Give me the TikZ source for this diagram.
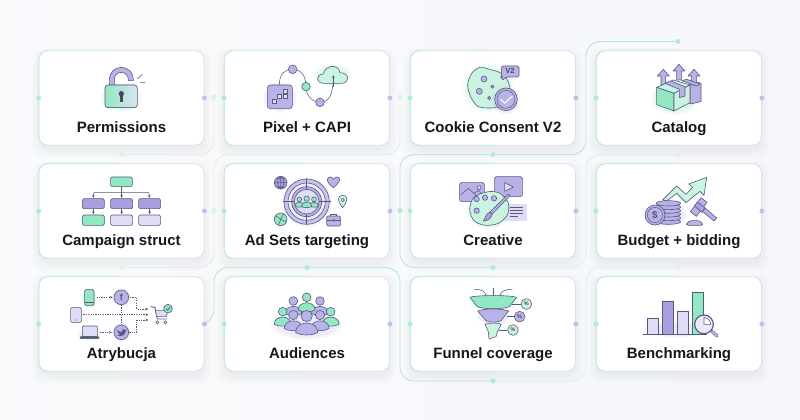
\documentclass[tikz,border=0pt]{standalone}
\usepackage{fontspec}
\setmainfont{Liberation Sans}
\usetikzlibrary{arrows.meta,calc}
\definecolor{ink}{HTML}{565B7C}
\definecolor{pur}{HTML}{B9B2E8}
\definecolor{purD}{HTML}{A79FE0}
\definecolor{lil}{HTML}{DFDCF7}
\definecolor{grn}{HTML}{92E8C2}
\definecolor{grnL}{HTML}{CBF3E1}
\definecolor{wireA}{HTML}{B4E9D4}
\definecolor{wireB}{HTML}{DAF2E9}
\definecolor{bdL}{HTML}{DFDDF1}
\definecolor{bdG}{HTML}{C6EEDF}
\definecolor{txt}{HTML}{15171F}
\definecolor{bgtint}{HTML}{F6F7FB}
\pgfdeclarelayer{bg}
\pgfsetlayers{bg,main}
\tikzset{
  x=1pt,y=-1pt,
  card/.style={draw=bdL,line width=.8pt,fill=white,rounded corners=9pt,minimum width=165pt,minimum height=94.5pt,inner sep=0pt},
  cardlabel/.style={font=\bfseries\fontsize{15}{18}\selectfont,text=txt,inner sep=0pt,anchor=base},
  dotp/.style={circle,fill=#1,minimum size=5pt,inner sep=0pt},
  wirestrong/.style={draw=wireA,line width=.9pt,rounded corners=14pt},
  wirelight/.style={draw=wireB,line width=.9pt,rounded corners=14pt},
  ol/.style={draw=ink,line width=.6pt,line join=round},
  thin line/.style={draw=ink,line width=.55pt},
  tip/.style={-{Stealth[length=3pt,width=2.6pt]},draw=ink,line width=.55pt},
  dashtip/.style={tip,dash pattern=on 1.2pt off 1.2pt},
  zA/.style={shift={(20,30)},x=.33333pt,y=-.33333pt},
  zB/.style={shift={(400,30)},x=.33333pt,y=-.33333pt},
  zC/.style={shift={(20,150)},x=.33333pt,y=-.33333pt},
  zD/.style={shift={(400,150)},x=.33333pt,y=-.33333pt},
  zE/.style={shift={(20,265)},x=.33333pt,y=-.33333pt},
  zF/.style={shift={(400,265)},x=.33333pt,y=-.33333pt},
}
\newcommand\softglow[5]{%
  \foreach \g in {1.22,1.17,1.12,1.07,1.02,.97}{\fill[#5,opacity=.045] (#1,#2) ellipse ({#3*\g} and {#4*\g});}}
\newcommand\personfig[4]{%
  \filldraw[ol,fill=#4] ({#1-1.95*#3},{#2+2.9*#3}) .. controls ({#1-1.95*#3},{#2+.7*#3}) and ({#1+1.95*#3},{#2+.7*#3}) .. ({#1+1.95*#3},{#2+2.9*#3}) .. controls ({#1+1*#3},{#2+3.5*#3}) and ({#1-1*#3},{#2+3.5*#3}) .. cycle;
  \filldraw[ol,fill=#4] (#1,#2) circle (#3);}
\begin{document}
\begin{tikzpicture}
\useasboundingbox (0,0) rectangle (800,420);
\begin{pgfonlayer}{bg}
\shade[left color=white!40!bgtint,right color=bgtint] (0,0) rectangle (800,420);
\foreach \cx in {121.5,307,493,679}\foreach \cy in {98,211,324}\foreach \s in {0,1.5,3,4.5,6,7.5}{
  \fill[black,opacity=.009,rounded corners=11pt] ({\cx-82.5-\s},{\cy-47.25+5-\s}) rectangle ({\cx+82.5+\s},{\cy+47.25+5+\s});}
\end{pgfonlayer}
% cards
\foreach \n/\cx/\cy/\t in {a/121.5/98/Permissions,b/307/98/Pixel + CAPI,c/493/98/Cookie Consent V2,d/679/98/Catalog,
  e/121.5/211/Campaign struct,f/307/211/Ad Sets targeting,g/493/211/Creative,h/679/211/Budget + bidding,
  i/121.5/324/Atrybucja,j/307/324/Audiences,k/493/324/Funnel coverage,l/679/324/Benchmarking}{
  \node[card] (\n) at (\cx,\cy) {};
  \draw[bdG,line width=.8pt,rounded corners=9pt] (\n.south) -- (\n.south west) -- (\n.north west) -- (\n.north);
  \node[cardlabel] (t\n) at (\cx,{\cy+34}) {\t};
  \node[dotp=grn!75!white] (\n L) at (\n.west) {};
  \node[dotp=pur!85!white] (\n R) at (\n.east) {};
}
% junction and mid-gap dots
\coordinate (v1) at (214,0); \coordinate (v2) at (400,0); \coordinate (v3) at (586,0);
\node[dotp=wireB] (j1) at (214,97) {};
\node[dotp=wireB] (j2) at (400,97) {};
\node[dotp=wireB] (j3) at (214,210.5) {};
\node[dotp=wireA] (j4) at (400,210.5) {};
\node[dotp=wireB] (m1) at (121.5,154.5) {};
\node[dotp=wireB] (m2) at (121.5,267.5) {};
\node[dotp=wireA] (m3) at (307,267.5) {};
\node[dotp=wireA] (m4) at (493,154.5) {};
\node[dotp=wireA] (m5) at (493,267.5) {};
\node[dotp=wireA] (m6) at (493,381) {};
\node[dotp=wireA] (m7) at (678,41.5) {};
\node[dotp=wireB] (m8) at (678,154.5) {};
\node[dotp=wireB] (m9) at (678,267.5) {};
\begin{pgfonlayer}{bg}
\draw[wirelight] (j1.center) -- (j1 |- m1) -- (m1.center);
\draw[wirelight] (j2.center) -- (j2 |- m1) -- (j3 |- m1) -- (j3.center) -- (j3 |- m2) -- (m2.center);
\draw[wirestrong] (iR.center) -- (v1 |- iR) -- (v1 |- m3) -- (m3.center) -- (v2 |- m3) -- (v2 |- m6) -- (m6.center);
\draw[wirelight] (m6.center) -- (v3 |- m6) -- (v3 |- m9) -- (m9.center);
\draw[wirestrong] (m7.center) -- (v3 |- m7) -- (v3 |- m4) -- (m4.center) -- (v2 |- m4) -- (v2 |- m5) -- (m5.center);
\draw[wirelight] (m5.center) -- (v3 |- m5) -- (v3 |- m8) -- (m8.center);
\end{pgfonlayer}
% ---------- Permissions
\begin{scope}[zA]
\softglow{304}{205}{52}{34}{grn}
\filldraw[ol,fill=pur] (268,170) -- (268,148) arc[start angle=180,end angle=360,radius=36] -- (340,152) -- (325,152) -- (325,148) arc[start angle=360,end angle=180,radius=21] -- (283,170) -- cycle;
\filldraw[ol,left color=grn,right color=lil!70!grnL,rounded corners=3pt] (255,165) rectangle (352,233);
\fill[ink!80!black] (304,191) circle (8); \fill[ink!80!black] (299,193) rectangle (309,215);
\draw[thin line] (352,147) -- (367,133) (360,158) -- (376,158);
% ---------- Pixel + CAPI
\softglow{780}{202}{42}{38}{pur}
\softglow{938}{135}{46}{26}{grn}
\draw[thin line] (778,165) .. controls (778,130) and (795,118) .. (818,118) .. controls (845,118) and (858,140) .. (858,170) .. controls (858,200) and (880,217) .. (900,217) .. controls (930,217) and (940,190) .. (940,135);
\filldraw[ol,fill=pur,rounded corners=3pt] (742,165) rectangle (817,236);
\foreach \a/\b in {795/185,795/198,778/200,763/215}{\filldraw[ol,fill=lil] ({\a-6},{\b-6}) rectangle ({\a+6},{\b+6});}
\filldraw[ol,fill=pur] (818,118) circle (13);
\filldraw[ol,fill=grn] (858,170) circle (13);
\filldraw[ol,fill=pur] (900,217) circle (13);
\filldraw[ol,fill=grnL] (912,160) .. controls (885,160) and (888,132) .. (910,132) .. controls (915,105) and (955,100) .. (960,128) .. controls (990,128) and (990,160) .. (965,160) -- cycle;
\draw[tip] (940,170) -- (940,135);
\end{scope}
% ---------- Cookie
\begin{scope}[zB]
\softglow{265}{175}{66}{62}{grn}
\filldraw[ol,fill=grnL] plot[smooth cycle] coordinates {(240,112) (268,118) (300,128) (322,150) (330,180) (318,222) (290,232) (262,234) (232,228) (212,200) (203,165) (215,130)};
\filldraw[ol,fill=pur] (252,147) circle (9);
\filldraw[ol,fill=pur] (238,184) circle (9);
\filldraw[ol,fill=pur] (277,170) circle (5);
\filldraw[ol,fill=pur] (268,204) circle (5);
\softglow{318}{210}{36}{36}{pur}
\filldraw[ol,fill=pur] (318,208) circle (34);
\draw[ink,line width=.5pt] (318,208) circle (27);
\draw[draw=white,line width=1pt,line join=round] (302,208) -- (314,220) -- (337,198);
\filldraw[ol,fill=pur,rounded corners=1.5pt] (304,108) -- (357,108) -- (357,141) -- (318,141) -- (306,152) -- (306,141) -- (304,141) -- cycle;
\node[font=\bfseries\fontsize{7.5}{8}\selectfont,text=ink!80!black,inner sep=0pt] (v2t) at (330,124) {V2};
% ---------- Catalog
\softglow{825}{205}{60}{42}{grn}
\filldraw[ol,fill=pur] (870,150) -- (903,160) -- (903,215) -- (870,222) -- cycle;
\foreach \a/\t/\b in {790/118/165,837/103/150,882/118/165}{
 \filldraw[ol,fill=pur] ({\a-7},\b) -- ({\a-7},{\t+20}) -- ({\a-18},{\t+20}) -- (\a,\t) -- ({\a+18},{\t+20}) -- ({\a+7},{\t+20}) -- ({\a+7},\b) -- cycle;}
\filldraw[ol,fill=grnL] (770,172) -- (820,150) -- (870,165) -- (822,190) -- cycle;
\filldraw[ol,fill=grn] (770,172) -- (822,190) -- (822,243) -- (770,224) -- cycle;
\filldraw[ol,fill=grnL] (822,190) -- (870,165) -- (870,218) -- (822,243) -- cycle;
\filldraw[ol,fill=pur] (795,160) -- (812,153) -- (855,170) -- (855,198) -- (838,203) -- (838,178) -- cycle;
\filldraw[ol,fill=pur] (845,152) -- (860,148) -- (900,162) -- (890,168) -- cycle;
\end{scope}
% ---------- Campaign struct
\begin{scope}[zC]
\softglow{304}{95}{34}{16}{grn}
\softglow{220}{212}{34}{16}{grn}
\filldraw[ol,fill=grn,rounded corners=1.5pt] (272,81) rectangle (337,110);
\draw[tip] (305,110) -- (305,144);
\draw[tip,rounded corners=2pt] (305,127) -- (220,127) -- (220,144);
\draw[tip,rounded corners=2pt] (305,127) -- (388,127) -- (388,144);
\foreach \a in {187,272,356}{\filldraw[ol,fill=purD,rounded corners=1.5pt] (\a,146) rectangle ({\a+66},176);
  \draw[tip] ({\a+33},176) -- ({\a+33},193);}
\filldraw[ol,fill=grn,rounded corners=1.5pt] (187,195) rectangle (253,226);
\filldraw[ol,fill=lil,rounded corners=1.5pt] (272,195) rectangle (338,226);
\filldraw[ol,fill=lil,rounded corners=1.5pt] (356,195) rectangle (422,226);
% ---------- Ad sets
\softglow{860}{157}{62}{62}{pur}
\filldraw[ol,fill=pur!80!white] (860,155) circle (68);
\filldraw[ol,fill=lil!50!white] (860,155) circle (56);
\filldraw[ol,fill=pur] (860,155) circle (45);
\filldraw[ol,fill=lil] (860,155) circle (37);
\draw[thin line] (788,155) -- (823,155) (897,155) -- (932,155) (860,85) -- (860,118) (860,192) -- (860,222);
\personfig{838}{148}{7}{grn}\personfig{882}{148}{7}{grn}\personfig{860}{146}{8}{grn}
\filldraw[ol,fill=purD] (782,98) circle (19);
\draw[thin line] (782,79) -- (782,117) (763,98) -- (801,98) (770,85) -- (794,85) (770,111) -- (794,111) (782,98) ellipse (9 and 19);
\filldraw[ol,fill=pur] (940,113) .. controls (915,95) and (920,78) .. (932,81) .. controls (937,82) and (940,86) .. (940,88) .. controls (940,86) and (945,82) .. (950,81) .. controls (962,78) and (965,95) .. (940,113) -- cycle;
\filldraw[ol,fill=grnL] (968,173) .. controls (950,150) and (953,136) .. (968,136) .. controls (983,136) and (986,150) .. (968,173) -- cycle;
\filldraw[ol,fill=white] (968,150) circle (5);
\filldraw[ol,fill=grn] (782,208) circle (19);
\draw[thin line] (768,198) -- (782,208) -- (776,225) (782,208) -- (798,215) (782,208) -- (790,192);
\filldraw[ol,fill=pur,rounded corners=1.5pt] (920,198) rectangle (962,228);
\draw[thin line] (932,198) -- (932,192) -- (950,192) -- (950,198) (920,211) -- (962,211);
\filldraw[ol,fill=white] (941,211) circle (3);
\end{scope}
% ---------- Creative
\begin{scope}[zD]
\softglow{268}{180}{58}{50}{grn}
\filldraw[ol,fill=pur,rounded corners=1.5pt] (179,98) rectangle (253,155);
\draw[thin line] (182,135) -- (205,115) -- (230,138) (222,130) -- (235,122) -- (250,135);
\filldraw[ol,fill=lil] (237,113) circle (6);
\filldraw[ol,fill=pur,rounded corners=1.5pt] (284,80) rectangle (367,140);
\filldraw[ol,fill=lil] (314,98) -- (340,111) -- (314,124) -- cycle;
\fill[lil] (315,163) rectangle (380,212);
\draw[ink,line width=.55pt] (330,172) -- (370,172) (330,181) -- (370,181) (330,190) -- (370,190) (330,200) -- (355,200);
\filldraw[ol,fill=grnL] plot[smooth cycle] coordinates {(265,125) (300,130) (325,160) (322,195) (295,220) (255,226) (222,212) (209,178) (222,142)};
\foreach \a/\b in {230/147,255/143,282/145,230/182}{\filldraw[ol,fill=pur] (\a,\b) circle (8);}
\filldraw[ol,fill=pur] (325,132) -- (330,137) -- (277,192) -- (270,186) -- cycle;
\filldraw[ol,fill=purD] (270,186) -- (277,192) .. controls (272,208) and (262,213) .. (250,213) .. controls (258,205) and (255,192) .. (270,186) -- cycle;
% ---------- Budget
\softglow{795}{195}{55}{30}{pur}
\filldraw[ol,fill=grnL] (788,150) -- (830,108) -- (858,133) -- (878,112) -- (866,102) -- (920,82) -- (912,136) -- (900,124) -- (858,158) -- (830,130) -- (800,153) -- cycle;
\foreach \b in {215,204,193,182,171,160}{\filldraw[ol,fill=pur] (805,\b) ellipse (37 and 8);}
\filldraw[ol,fill=pur] (765,195) circle (30);
\draw[ink,line width=.5pt] (765,195) circle (23);
\node[font=\bfseries\fontsize{10}{10}\selectfont,text=ink,inner sep=0pt] (usd) at (765,195) {\$};
\filldraw[ol,fill=pur] (900,178) -- (942,213) -- (950,204) -- (908,168) -- cycle;
\filldraw[ol,fill=pur] (921,157) -- (903,143) -- (871,185) -- (889,199) -- cycle;
\filldraw[ol,fill=purD] (916,174) -- (892,156) -- (883,168) -- (906,187) -- cycle;
\filldraw[ol,fill=pur,rounded corners=1.5pt] (860,220) -- (870,212) -- (898,212) -- (908,220) -- (908,226) -- (860,226) -- cycle;
\end{scope}
% ---------- Atrybucja
\begin{scope}[zE]
\softglow{208}{100}{18}{26}{grn}
\softglow{208}{205}{30}{18}{grn}
\softglow{304}{97}{24}{24}{pur}
\softglow{304}{202}{24}{24}{pur}
\filldraw[ol,fill=grn,rounded corners=1.5pt] (194,73) rectangle (222,122);
\draw[thin line] (194,112) -- (222,112);
\filldraw[ol,fill=lil,rounded corners=1.5pt] (152,127) rectangle (184,173);
\fill[ink] (168,165) circle (1.8);
\filldraw[ol,fill=lil,rounded corners=1pt] (187,183) rectangle (232,215);
\filldraw[ol,fill=ink,rounded corners=1pt] (180,215) rectangle (237,221);
\draw[dashtip] (230,97) -- (278,97);
\draw[dashtip] (240,202) -- (276,202);
\draw[dashtip] (190,149) -- (385,149);
\draw[ink,line width=.55pt,dash pattern=on 1.2pt off 1.2pt] (304,120) -- (304,180);
\draw[dashtip] (330,97) -- (350,97) -- (350,132) -- (385,132);
\draw[dashtip] (328,202) -- (350,202) -- (350,165) -- (385,165);
\filldraw[ol,fill=pur] (304,97) circle (22);
\node[font=\bfseries\fontsize{9}{9}\selectfont,text=ink,inner sep=0pt] (fb) at (304,97) {f};
\filldraw[ol,fill=pur] (304,202) circle (22);
\fill[ink] (292,195) .. controls (298,202) and (303,202) .. (305,200) .. controls (304,192) and (314,190) .. (317,195) -- (320,194) -- (317,199) .. controls (316,210) and (304,217) .. (290,211) .. controls (297,211) and (300,208) .. (300,208) .. controls (294,206) and (291,200) .. (292,195) -- cycle;
\draw[ink,line width=.9pt,line join=round] (392,125) -- (405,127) -- (412,162) -- (440,162);
\filldraw[ol,fill=lil] (406,137) -- (445,137) -- (438,155) -- (410,155) -- cycle;
\filldraw[ol,fill=white] (412,172) circle (4.5);
\filldraw[ol,fill=white] (436,172) circle (4.5);
\filldraw[ol,fill=grn] (444,131) circle (13);
\draw[ink,line width=.7pt] (438,131) -- (443,136) -- (451,126);
% ---------- Audiences
\softglow{860}{180}{90}{36}{pur}
\personfig{820}{108}{13}{pur}\personfig{900}{108}{13}{pur}\personfig{860}{97}{13}{grn}
\personfig{788}{140}{13}{grn}\personfig{932}{140}{13}{grn}
\personfig{820}{150}{14}{pur}\personfig{900}{150}{14}{pur}
\personfig{860}{153}{17}{pur}
\end{scope}
% ---------- Funnel
\begin{scope}[zF]
\softglow{280}{112}{62}{22}{grn}
\softglow{280}{155}{42}{20}{pur}
\draw[tip] (279,68) -- (279,100);
\draw[tip] (222,73) .. controls (245,72) and (258,80) .. (258,100);
\draw[tip] (337,73) .. controls (315,72) and (300,80) .. (300,100);
\filldraw[ol,fill=grn] (210,97) .. controls (225,90) and (335,90) .. (350,97) -- (328,125) .. controls (310,133) and (250,133) .. (232,125) -- cycle;
\filldraw[ol,fill=pur] (233,138) .. controls (250,130) and (310,130) .. (326,138) -- (303,167) .. controls (295,173) and (265,173) .. (258,167) -- cycle;
\filldraw[ol,fill=grnL] (255,178) .. controls (265,173) and (295,173) .. (304,178) -- (292,200) -- (288,215) -- (267,222) -- (265,200) -- cycle;
\foreach \a/\b/\c/\col/\n in {335/362/117/grnL/1,320/342/155/pur/2,298/322/195/grnL/3}{
  \draw[thin line] (\a,\c) -- (\b,\c);
  \filldraw[ol,fill=\col] ({\b+17},\c) circle (16);
  \node[font=\bfseries\fontsize{5.5}{6}\selectfont,text=ink!80!black,inner sep=0pt] (pc\n) at ({\b+17},\c) {\%};}
% ---------- Benchmarking
\softglow{825}{195}{80}{18}{pur}
\filldraw[ol,fill=lil] (742,208) -- (742,160) -- (775,160) -- (775,208);
\filldraw[ol,fill=purD] (787,208) -- (787,110) -- (820,110) -- (820,208);
\filldraw[ol,fill=lil] (833,208) -- (833,140) -- (866,140) -- (866,208);
\filldraw[ol,fill=grn] (878,208) -- (878,82) -- (911,82) -- (911,208);
\draw[ink,line width=.7pt] (730,208) -- (920,208);
\draw[ink,line width=3pt,line cap=round] (935,198) -- (951,213);
\draw[pur,line width=2pt,line cap=round] (935,198) -- (951,213);
\filldraw[draw=ink,line width=1.1pt,fill=lil!60!white] (912,178) circle (28);
\draw[ink,line width=.55pt,fill=white] (912,178) -- (912,158) arc[start angle=270,end angle=360,radius=20] -- cycle;
\end{scope}
\end{tikzpicture}
\end{document}
